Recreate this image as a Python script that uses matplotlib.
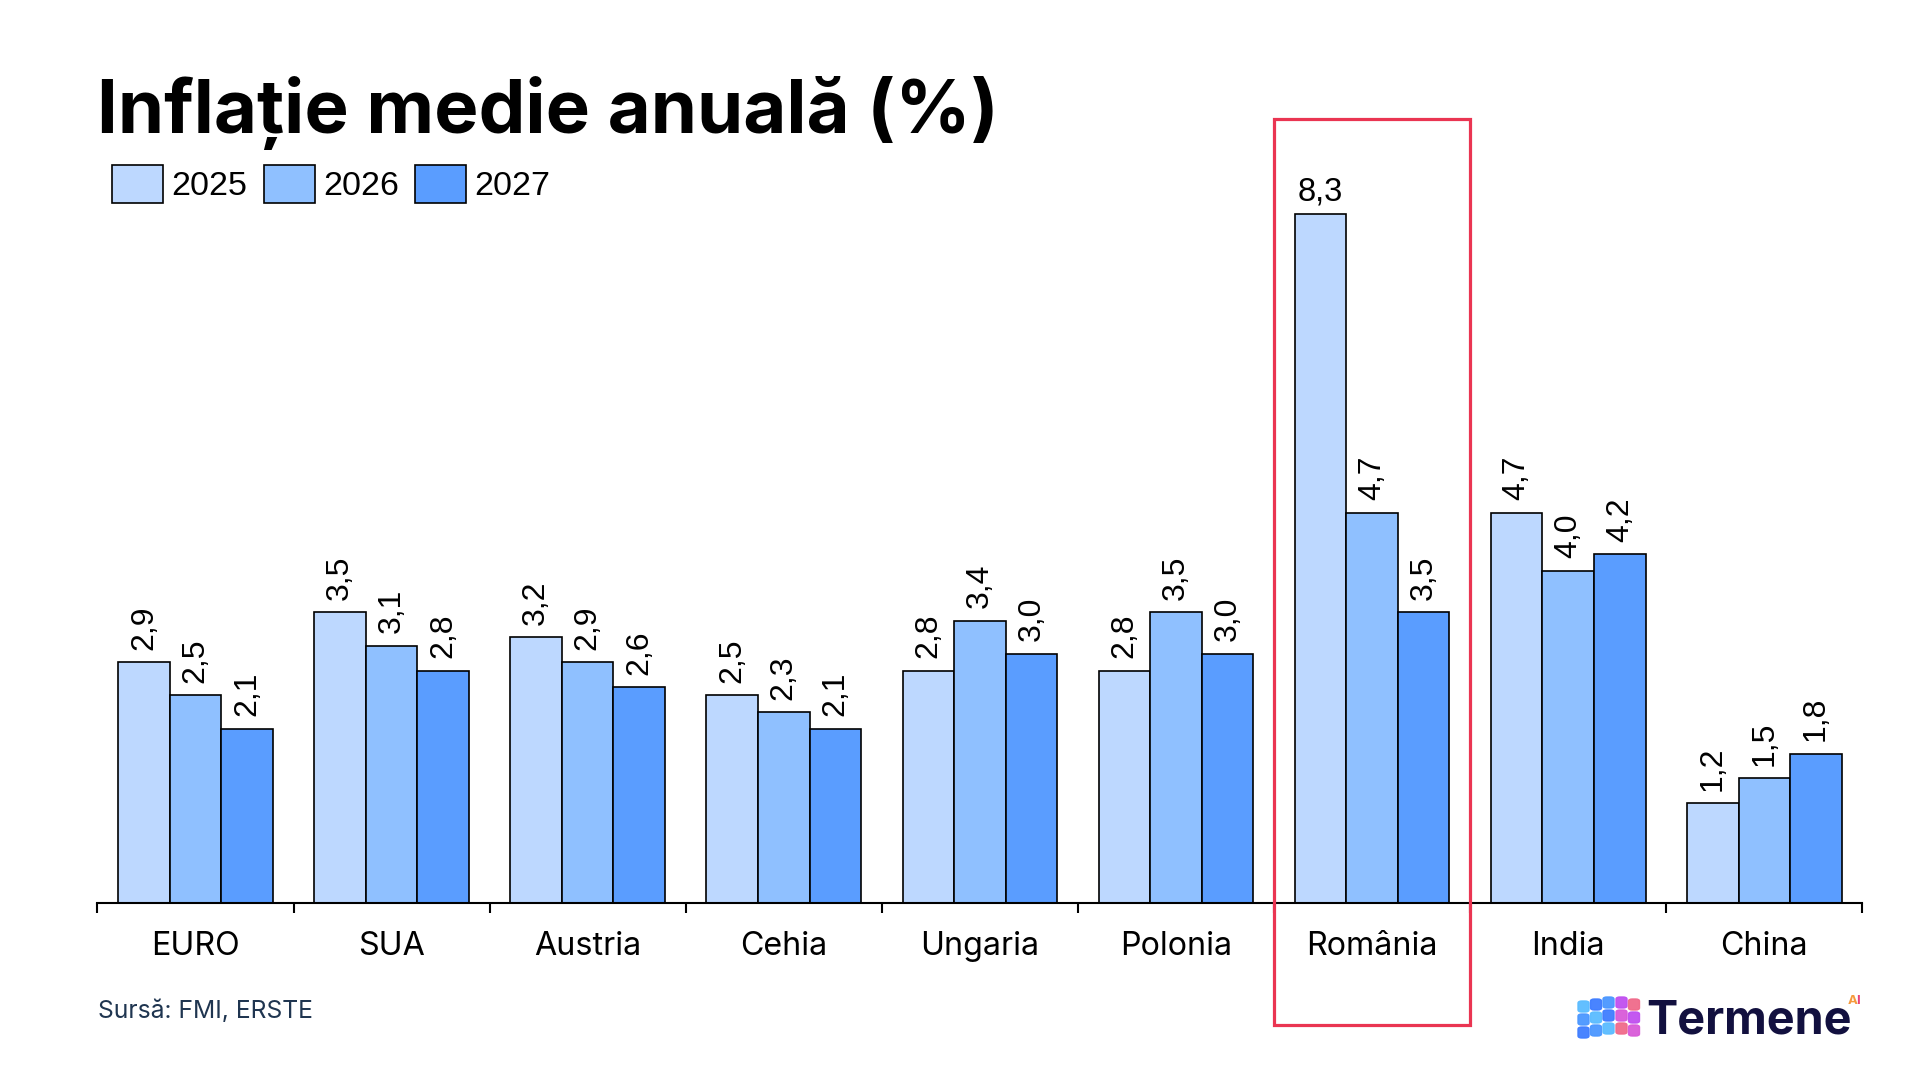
import matplotlib
matplotlib.use("Agg")
import numpy as np
import matplotlib.pyplot as plt
from matplotlib.patches import Rectangle, FancyBboxPatch
from matplotlib.transforms import blended_transform_factory

countries = ["EURO", "SUA", "Austria", "Cehia", "Ungaria", "Polonia", "România", "India", "China"]
years = ["2025", "2026", "2027"]
v2025 = [2.9, 3.5, 3.2, 2.5, 2.8, 2.8, 8.3, 4.7, 1.2]
v2026 = [2.5, 3.1, 2.9, 2.3, 3.4, 3.5, 4.7, 4.0, 1.5]
v2027 = [2.1, 2.8, 2.6, 2.1, 3.0, 3.0, 3.5, 4.2, 1.8]
colors = ["#bdd8ff", "#8fc0ff", "#5a9dff"]
highlight = "România"

fig = plt.figure(figsize=(19.2, 10.8), dpi=100)
ax = fig.add_axes([97.4 / 1920, 0.16389, 1765 / 1920, 0.69167])

x = np.arange(len(countries))
w = 0.263
series = [v2025, v2026, v2027]
top = max(v2025)
bars = []
for i, (vals, col, lab) in enumerate(zip(series, colors, years)):
    b = ax.bar(x + (i - 1) * w, vals, w, color=col, edgecolor="black",
               linewidth=1.2, label=lab, zorder=2)
    bars.append(b)
    for xi, v in zip(x + (i - 1) * w, vals):
        txt = f"{v:.1f}".replace(".", ",")
        if v == top:
            # the tallest bar keeps its label flat
            ax.annotate(txt, (xi, v), xytext=(0, 9.5), textcoords="offset points",
                        ha="center", va="baseline", fontsize=23.5,
                        family="Liberation Sans", color="black")
        else:
            ax.annotate(txt, (xi, v), xytext=(0, 9), textcoords="offset points",
                        ha="center", va="bottom", rotation=90, fontsize=23,
                        family="Liberation Sans", color="black")

ax.set_xlim(-0.5, len(countries) - 0.5)
ax.set_ylim(0, 9)
for s in ["left", "right", "top"]:
    ax.spines[s].set_visible(False)
ax.spines["bottom"].set_linewidth(1.5)
ax.set_yticks([])
ax.set_xticks(x)
ax.set_xticklabels(countries, fontsize=23.2, family="Inter")
ax.set_xticks(np.arange(len(countries) + 1) - 0.5, minor=True)
ax.tick_params(axis="x", which="major", length=0, pad=20.5)
ax.tick_params(axis="x", which="minor", length=7.5, width=1.5, direction="out")

# highlight box round România
k = countries.index(highlight)
tr = blended_transform_factory(ax.transData, ax.transAxes)
ax.add_patch(Rectangle((k - 0.5, -0.1638), 1.0, 1.2138, transform=tr,
                       fill=False, edgecolor="#ea3552", linewidth=2.3,
                       clip_on=False, zorder=5))

fig.text(97 / 1920, 0.8769, "Inflație medie anuală (%)", fontsize=53.5,
         fontweight="bold", family="Inter", va="baseline", ha="left")

fig.legend(handles=bars, labels=years, loc="upper left",
           bbox_to_anchor=(112 / 1920, 1 - 165 / 1080), ncol=3, frameon=False,
           prop={"family": "Liberation Sans", "size": 24.5},
           handlelength=1.5, handleheight=1.343, handletextpad=0.25,
           columnspacing=0.47, borderpad=0, borderaxespad=0)

fig.text(98 / 1920, 1 - 1018 / 1080, "Sursă: FMI, ERSTE", fontsize=17.8,
         family="Inter", color="#1f3550", va="baseline", ha="left")

# logo
icon_cols = ["#3f7dff", "#4b97ff", "#5bbcff"]
pink_cols = ["#f06a8a", "#d85bd8", "#c04ff0"]
s = 11 / 1920
sh = 11 / 1080
x0, y0 = 1578 / 1920, 1 - 1038 / 1080
for r in range(3):
    for c in range(3):
        fig.patches.append(FancyBboxPatch((x0 + c * 12.5 / 1920, y0 + r * 13 / 1080 + c * 2 / 1080),
                                          s, sh, boxstyle="round,pad=0,rounding_size=0.002",
                                          transform=fig.transFigure, color=icon_cols[(c + r) % 3],
                                          alpha=0.95))
    for c in range(2):
        fig.patches.append(FancyBboxPatch((x0 + (38 + c * 12.5) / 1920, y0 + (r * 13 + 4 - c * 2) / 1080),
                                          s, sh, boxstyle="round,pad=0,rounding_size=0.002",
                                          transform=fig.transFigure, color=pink_cols[(r + c) % 3],
                                          alpha=0.95))
fig.text(1646 / 1920, 1 - 1033 / 1080, "Termene", fontsize=33.7, fontweight="bold",
         family="Inter", color="#12103f", va="baseline", ha="left")
fig.text(1848 / 1920, 1 - 1004 / 1080, "A", fontsize=9.5, fontweight="bold",
         family="Inter", color="#f59a3c", va="baseline", ha="left")
fig.text(1856 / 1920, 1 - 1004 / 1080, "I", fontsize=9.5, fontweight="bold",
         family="Inter", color="#e8407a", va="baseline", ha="left")

fig.savefig("out.png", dpi=100, facecolor="white")
